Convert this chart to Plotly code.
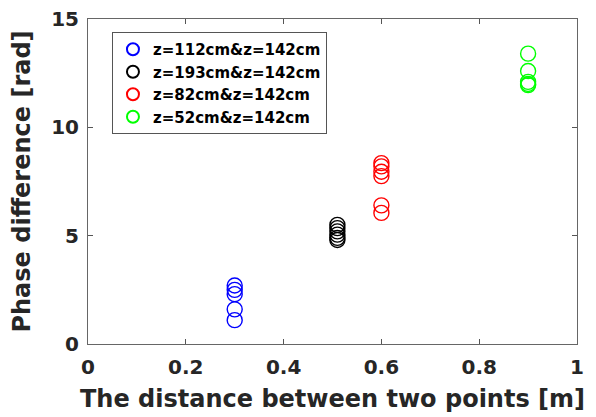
import plotly.graph_objects as go

series_names = ["z=112cm&z=142cm", "z=193cm&z=142cm", "z=82cm&z=142cm", "z=52cm&z=142cm"]
series_colors = ["#0000ff", "#000000", "#ff0000", "#00ff00"]
x_blue = [0.3, 0.3, 0.3, 0.3, 0.3]
y_blue = [2.7, 2.5, 2.3, 1.6, 1.1]
x_black = [0.51, 0.51, 0.51, 0.51, 0.51, 0.51]
y_black = [5.5, 5.35, 5.2, 5.05, 4.9, 4.8]
x_red = [0.6, 0.6, 0.6, 0.6, 0.6, 0.6]
y_red = [8.35, 8.2, 7.95, 7.75, 6.4, 6.05]
x_green = [0.9, 0.9, 0.9, 0.9, 0.9]
y_green = [13.4, 12.6, 12.1, 12.0, 11.95]
x_ticks = [0, 0.2, 0.4, 0.6, 0.8, 1]
x_ticklabels = ["<b>0</b>", "<b>0.2</b>", "<b>0.4</b>", "<b>0.6</b>", "<b>0.8</b>", "<b>1</b>"]
y_ticks = [0, 5, 10, 15]
y_ticklabels = ["<b>0</b>", "<b>5</b>", "<b>10</b>", "<b>15</b>"]

xs = [x_blue, x_black, x_red, x_green]
ys = [y_blue, y_black, y_red, y_green]

fig = go.Figure()
for name, c, x, y in zip(series_names, series_colors, xs, ys):
    fig.add_trace(go.Scatter(
        x=x, y=y, mode="markers", name="<b>" + name + "</b>",
        marker=dict(symbol="circle-open", size=15, color=c, line=dict(width=1.4, color=c)),
    ))

font_fam = "DejaVu Sans"
axis_common = dict(
    showline=True, linecolor="#666666", linewidth=1, mirror="allticks",
    ticks="inside", ticklen=5, tickcolor="#555555", showgrid=False, zeroline=False,
    tickfont=dict(family=font_fam, size=20, color="#262626"),
    automargin=False, ticklabeloverflow="allow",
)
fig.update_xaxes(range=[0, 1], tickvals=x_ticks, ticktext=x_ticklabels,
                 ticklabelstandoff=5,
                 title=dict(text="<b>The distance between two points [m]</b>",
                            font=dict(family=font_fam, size=24, color="#262626"), standoff=12),
                 **axis_common)
fig.update_yaxes(range=[0, 15], tickvals=y_ticks, ticktext=y_ticklabels,
                 ticklabelstandoff=4,
                 title=dict(text="<b>Phase difference [rad]</b>",
                            font=dict(family=font_fam, size=24, color="#262626"), standoff=14),
                 **axis_common)
fig.update_layout(
    width=596, height=417,
    margin=dict(l=80, r=27, t=11, b=81),
    plot_bgcolor="white", paper_bgcolor="white",
    font=dict(family=font_fam, color="#262626"),
    legend=dict(x=0.049, y=0.96, xanchor="left", yanchor="top",
                bgcolor="white", bordercolor="#555555", borderwidth=1,
                font=dict(family=font_fam, size=15, color="#000000"),
                tracegroupgap=0, itemsizing="constant"),
)
fig.write_html("out.html")
